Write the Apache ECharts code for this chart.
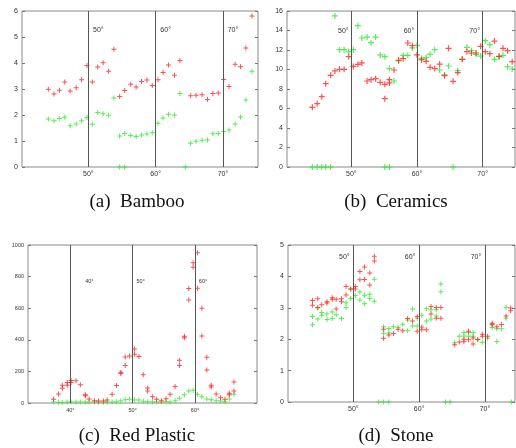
<!DOCTYPE html>
<html><head><meta charset="utf-8">
<script src="https://cdn.jsdelivr.net/npm/echarts@6/dist/echarts.min.js"></script>
<style>html,body{margin:0;padding:0;background:#fff}#c{width:516px;height:448px}</style>
</head><body><div id="c"></div>
<script>
// ---------- data ----------
const bambooX = [44.06,44.9,45.7,46.5,47.3,48.2,49.0,49.8,50.6,51.4,52.2,53.0,53.8,54.65,55.4,56.3,57.1,57.9,58.7,59.5,60.35,61.1,61.9,62.8,63.6,64.4,65.2,66.0,66.9,67.7,68.5,69.3,70.1,70.9,71.8,72.6,73.4,74.3];
const bambooRed = [2.99,2.81,2.95,3.27,2.92,3.05,3.36,3.90,3.27,3.85,4.01,3.68,4.53,2.71,2.94,3.18,3.08,3.29,3.35,3.13,3.36,3.63,3.92,3.53,4.10,null,2.74,2.76,2.78,2.60,2.83,2.85,3.37,3.10,3.95,3.86,4.58,5.81];
const bambooGreen = [1.85,1.78,1.87,1.91,1.59,1.65,1.78,1.90,1.64,2.10,2.05,1.99,2.65,1.19,1.29,1.21,1.17,1.23,1.27,1.32,1.68,1.88,2.03,2.00,2.83,0,0.91,0.99,1.03,1.04,1.28,1.29,1.37,1.42,1.65,1.92,2.58,3.68];
const bambooGreenZeroX = [54.65,55.4];

const ceramicsRed = [[44.06,6.12],[44.8,6.50],[45.5,7.21],[46.1,8.55],[46.85,9.40],[47.5,9.85],[48.2,10.02],[48.9,10.02],[49.6,11.32],[50.3,10.32],[51.0,10.53],[51.6,10.67],[52.4,8.82],[53.0,8.96],[53.7,9.06],[54.4,8.68],[55.1,8.48],[55.1,7.01],[55.8,8.96],[55.8,8.62],[56.5,9.95],[57.2,10.94],[57.9,11.11],[58.6,12.72],[59.3,12.44],[60.0,11.49],[60.7,11.01],[61.4,10.84],[62.0,10.22],[62.7,10.09],[63.45,10.56],[64.2,9.37],[64.8,12.17],[65.5,8.79],[66.2,9.68],[66.9,11.04],[67.6,11.83],[68.3,11.69],[69.0,11.69],[69.7,12.38],[70.4,11.83],[71.1,11.62],[71.8,12.92],[72.5,11.35],[73.1,12.17],[73.8,11.93],[74.5,10.80]];
const ceramicsGreen = [[44.06,0],[44.8,0],[45.5,0],[46.1,0],[46.85,0],[47.5,15.49],[48.2,12.03],[48.9,12.03],[49.6,11.83],[50.3,12.03],[51.0,14.50],[51.6,13.23],[52.4,13.33],[53.0,12.75],[53.7,13.33],[54.4,11.49],[55.1,11.32],[55.1,0],[55.8,10.09],[55.8,0],[56.5,8.82],[57.2,10.87],[57.9,11.45],[58.6,11.45],[59.3,12.21],[60.0,12.48],[60.7,11.15],[61.4,11.21],[62.0,11.56],[62.7,12.03],[63.45,9.95],[64.2,9.44],[64.8,10.36],[65.5,0],[66.2,9.88],[66.9,11.04],[67.6,12.27],[68.3,11.93],[69.0,11.56],[69.7,11.38],[70.4,12.96],[71.1,12.55],[71.8,11.04],[72.5,11.32],[73.1,11.45],[73.8,10.29],[74.5,10.05]];

const plasticRed = [[37.3,23],[38.1,57],[38.7,112],[38.7,93],[39.5,129],[39.5,112],[40.1,143],[40.1,129],[40.9,141],[41.6,116],[42.4,53],[42.4,46],[43.0,25],[43.85,15],[44.5,13],[45.3,13],[45.9,19],[46.7,55],[47.4,110],[48.1,194],[48.1,186],[48.8,291],[48.8,238],[49.5,297],[50.3,342],[50.3,308],[51.0,295],[51.7,179],[52.4,95],[52.4,76],[53.2,40],[53.85,23],[54.6,15],[55.35,27],[56.0,55],[56.8,105],[57.5,270],[57.5,238],[58.3,422],[58.3,413],[59.0,652],[59.0,724],[59.7,888],[59.7,859],[60.4,726],[60.4,951],[61.1,599],[61.1,424],[61.9,289],[61.9,209],[62.6,112],[62.6,101],[63.4,57],[64.1,34],[64.8,23],[65.5,61],[65.5,53],[66.25,133],[66.25,76]];
const plasticGreen = [[37.3,6],[38.1,4],[38.7,3],[39.5,6],[40.1,6],[40.9,6],[41.6,6],[42.4,6],[43.0,6],[43.85,6],[44.5,6],[45.3,4],[45.9,6],[46.7,6],[47.4,8],[48.1,15],[48.8,21],[49.5,23],[50.3,19],[51.0,19],[51.7,11],[52.4,8],[53.2,8],[53.85,6],[54.6,6],[55.35,8],[56.0,6],[56.8,15],[57.5,30],[58.3,53],[59.0,76],[59.7,80],[60.4,55],[61.1,40],[61.9,25],[62.6,21],[63.4,15],[64.1,13],[64.8,8],[65.5,25],[66.25,55]];

const stoneRed = [[43.8,3.23],[43.8,3.08],[44.6,3.29],[44.6,3.01],[45.2,3.10],[46.0,3.15],[46.0,3.19],[46.8,3.27],[46.8,3.32],[47.4,3.27],[47.4,2.96],[48.2,3.29],[48.2,3.19],[48.9,3.68],[48.9,3.41],[49.6,3.60],[50.3,3.68],[50.3,3.60],[51.0,4.16],[51.0,3.89],[51.7,4.30],[51.7,3.90],[52.5,4.11],[52.5,3.73],[53.2,4.64],[53.2,4.49],[54.6,2.32],[54.6,2.03],[55.4,2.13],[56.1,2.18],[56.8,2.32],[57.5,2.27],[58.25,2.66],[59.0,2.58],[59.7,2.72],[59.7,2.25],[60.4,2.39],[60.4,2.30],[61.1,2.30],[61.8,2.80],[61.8,3.04],[62.6,3.01],[62.6,2.67],[63.3,3.01],[63.3,2.67],[65.4,1.82],[66.1,1.91],[66.8,2.00],[66.8,1.92],[67.5,2.25],[67.5,1.98],[68.2,1.85],[68.2,2.04],[68.9,1.99],[69.6,2.16],[69.6,2.09],[70.4,2.09],[71.1,2.51],[71.1,2.46],[71.8,2.40],[72.5,2.47],[73.2,2.74],[73.9,2.91],[73.9,2.99]];
const stoneGreen = [[43.8,2.72],[43.8,2.46],[44.6,2.99],[44.6,2.64],[45.2,2.85],[45.2,2.76],[46.0,2.80],[46.0,2.63],[46.8,2.87],[46.8,2.66],[47.4,2.78],[48.2,2.66],[48.9,3.01],[48.9,3.16],[49.6,3.30],[49.6,3.60],[50.3,3.39],[51.0,3.50],[51.0,3.25],[51.7,3.40],[51.7,3.13],[52.5,3.43],[52.5,3.30],[53.2,3.91],[53.2,3.21],[53.85,0],[54.6,2.40],[54.6,2.19],[54.6,0],[55.4,2.34],[55.4,2.20],[55.4,0],[56.1,2.40],[56.8,2.38],[57.5,2.48],[58.25,2.61],[58.25,2.27],[59.0,2.96],[59.0,2.42],[59.7,2.67],[59.7,2.42],[60.4,2.76],[61.1,2.97],[61.1,2.58],[61.8,2.94],[61.8,2.64],[62.6,2.74],[62.6,2.94],[63.3,3.76],[63.3,3.51],[64.0,0],[64.7,0],[65.4,1.89],[66.1,2.09],[66.8,2.21],[66.8,2.10],[67.5,2.21],[67.5,2.09],[68.2,2.21],[68.2,2.09],[68.9,1.98],[69.6,1.90],[70.4,2.03],[71.1,2.48],[71.1,2.37],[71.8,2.33],[71.8,1.93],[72.5,2.33],[73.2,3.01],[73.2,2.67],[74.0,0]];

const angleTicksABD = [50,60,70];
const angleTicksC = [40,50,60];
const captions = ['(a)  Bamboo','(b)  Ceramics','(c)  Red Plastic','(d)  Stone'];

// ---------- chart ----------
const PLUS = 'path://M4,0H6V4H10V6H6V10H4V6H0V4H4Z';
const RED = '#ff2626', GREEN = '#2ee82e';
const grids = [
  {left:22, top:11, width:236, height:156},
  {left:287, top:11, width:228, height:156},
  {left:28, top:245, width:229, height:158},
  {left:288, top:245, width:227, height:157}
];
const xr = [[40.15,75.2],[40.2,74.93],[33.2,69.95],[40.08,74.56]];
const yr = [[0,6,1],[0,16,2],[0,1000,200],[0,5,1]];
const fs = [7,7,5.5,7];
const ticks = [angleTicksABD, angleTicksABD, angleTicksC, angleTicksABD];
const lblOff = [
  [[10,28],[10,28],[10,28]],
  [[-8,29],[-8,29],[-8,29]],
  [[19,44],[8,44],[8,44]],
  [[-9,21],[-9,21],[-9,21]]
];

const xAxis = [], yAxis = [], series = [];
grids.forEach((g,i)=>{
  g.show = true; g.borderColor = '#8a8a8a'; g.borderWidth = 1;
  xAxis.push({type:'value', gridIndex:i, min:xr[i][0], max:xr[i][1],
    axisLine:{show:false}, axisTick:{show:false}, splitLine:{show:false},
    axisLabel:{customValues:ticks[i], formatter:v=>v+'°', fontSize:fs[i], color:'#333', margin:4, fontFamily:'Liberation Sans'}});
  yAxis.push({type:'value', gridIndex:i, min:yr[i][0], max:yr[i][1], interval:yr[i][2],
    axisLine:{show:false}, splitLine:{show:false},
    axisTick:{show:true, inside:true, length:3, lineStyle:{color:'#777'}},
    axisLabel:{fontSize:fs[i], color:'#333', margin:4, fontFamily:'Liberation Sans', formatter:v=>String(v)}});
  yAxis.push({type:'value', gridIndex:i, position:'right', min:yr[i][0], max:yr[i][1], interval:yr[i][2],
    axisLine:{show:false}, splitLine:{show:false}, axisLabel:{show:false},
    axisTick:{show:true, inside:true, length:3, lineStyle:{color:'#777'}}});
});

function vlines(i){
  return {silent:true, symbol:'none', animation:false,
    lineStyle:{color:'#555', width:1, type:'solid'},
    label:{show:true, position:'end', fontSize:fs[i], color:'#333', fontFamily:'Liberation Sans'},
    data: ticks[i].map((v,k)=>({xAxis:v, label:{formatter:v+'°', offset:lblOff[i][k]}}))};
}
function sc(i, data, color, ml){
  const s = {type:'scatter', xAxisIndex:i, yAxisIndex:i*2, data, symbol:PLUS,
    symbolSize: i===1 ? 6 : 5, itemStyle:{color}, animation:false, clip:false, silent:true};
  if (ml) s.markLine = vlines(i);
  return s;
}
series.push(sc(0, bambooX.map((x,k)=>[x,bambooGreen[k]]).concat(bambooGreenZeroX.map(x=>[x,0])), GREEN, true));
series.push(sc(0, bambooX.map((x,k)=>[x,bambooRed[k]]).filter(p=>p[1]!==null), RED));
series.push(sc(1, ceramicsGreen, GREEN, true));
series.push(sc(1, ceramicsRed, RED));
series.push(sc(2, plasticGreen, GREEN, true));
series.push(sc(2, plasticRed, RED));
series.push(sc(3, stoneGreen, GREEN, true));
series.push(sc(3, stoneRed, RED));

const capPos = [[137,202],[396,202],[137,436],[396,436]];
const graphic = captions.map((t,k)=>({type:'text', x:capPos[k][0], y:capPos[k][1],
  style:{text:t, fill:'#111', font:'19px "Liberation Serif"', textAlign:'center', textVerticalAlign:'middle'}}));

const chart = echarts.init(document.getElementById('c'));
chart.setOption({animation:false, grid:grids, xAxis, yAxis, series, graphic});
</script></body></html>
